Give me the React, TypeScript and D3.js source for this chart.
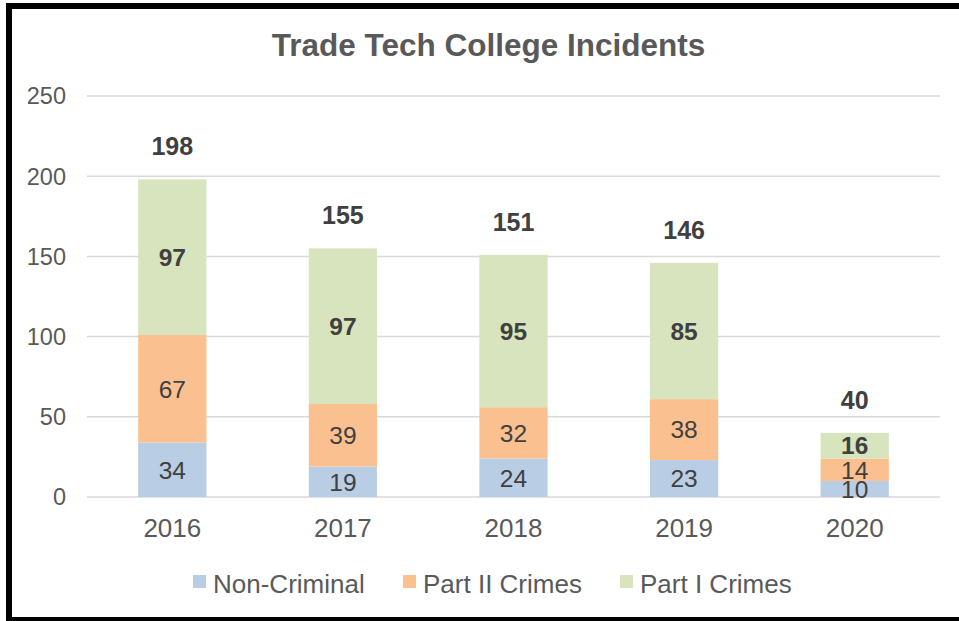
import React from "react";
import * as d3 from "d3";

const years = ["2016", "2017", "2018", "2019", "2020"];
const nonCriminal = [34, 19, 24, 23, 10];
const partII = [67, 39, 32, 38, 14];
const partI = [97, 97, 95, 85, 16];
const totals = [198, 155, 151, 146, 40];
const seriesNames = ["Non-Criminal", "Part II Crimes", "Part I Crimes"];
const seriesColors = ["#B9CDE5", "#FAC090", "#D7E4BD"];
const yTicks = [0, 50, 100, 150, 200, 250];

const W = 959;
const H = 621;
const FONT = "'Liberation Sans', Arial, Helvetica, sans-serif";

export default function App() {
  const x = d3.scaleBand<string>().domain(years).range([87, 940]).paddingInner(0.6).paddingOuter(0.3);
  const y = d3.scaleLinear().domain([0, 250]).range([497, 96]);

  const table = years.map((yr, i) => ({
    year: yr,
    s0: nonCriminal[i],
    s1: partII[i],
    s2: partI[i],
  }));
  const stack = d3.stack<any>().keys(["s0", "s1", "s2"]);
  const layers = stack(table);

  const legendX = [193, 403, 620];

  return (
    <svg
      width={W}
      height={H}
      style={{ position: "fixed", left: 0, top: 0, background: "#fff" }}
      fontFamily={FONT}
    >
      <rect x={0} y={0} width={W} height={H} fill="#fff" />
      {/* gridlines */}
      {yTicks.map((t) => (
        <line key={t} x1={87} x2={940} y1={y(t)} y2={y(t)} stroke="#D9D9D9" strokeWidth={1.5} />
      ))}
      {/* y tick labels */}
      {yTicks.map((t) => (
        <text key={"l" + t} x={66} y={y(t) + 8.4} textAnchor="end" fontSize={23.5} fill="#595959">
          {t}
        </text>
      ))}
      {/* bars */}
      {layers.map((layer, li) =>
        layer.map((d, i) => (
          <rect
            key={li + "-" + i}
            x={x(years[i])}
            width={x.bandwidth()}
            y={y(d[1])}
            height={y(d[0]) - y(d[1])}
            fill={seriesColors[li]}
          />
        ))
      )}
      {/* segment labels */}
      {layers.map((layer, li) =>
        layer.map((d, i) => (
          <text
            key={"t" + li + "-" + i}
            x={(x(years[i]) as number) + x.bandwidth() / 2}
            y={(y(d[0]) + y(d[1])) / 2 + 8.8}
            textAnchor="middle"
            fontSize={24.5}
            fontWeight={li === 2 ? "bold" : "normal"}
            fill="#404040"
          >
            {d[1] - d[0]}
          </text>
        ))
      )}
      {/* totals */}
      {totals.map((t, i) => (
        <text
          key={"tot" + i}
          x={(x(years[i]) as number) + x.bandwidth() / 2}
          y={y(t) - 24}
          textAnchor="middle"
          fontSize={25}
          fontWeight="bold"
          fill="#404040"
        >
          {t}
        </text>
      ))}
      {/* x labels */}
      {years.map((yr) => (
        <text
          key={"x" + yr}
          x={(x(yr) as number) + x.bandwidth() / 2}
          y={537}
          textAnchor="middle"
          fontSize={26}
          fill="#595959"
        >
          {yr}
        </text>
      ))}
      {/* title */}
      <text x={488.5} y={56} textAnchor="middle" fontSize={31.5} fontWeight="bold" fill="#595959">
        Trade Tech College Incidents
      </text>
      {/* legend */}
      {seriesNames.map((n, i) => (
        <g key={"lg" + i}>
          <rect x={legendX[i]} y={575} width={13} height={13} fill={seriesColors[i]} />
          <text x={legendX[i] + 20} y={593} fontSize={26} fill="#595959">
            {n}
          </text>
        </g>
      ))}
      {/* border */}
      <rect x={9} y={6} width={970} height={614} fill="none" stroke="#000" strokeWidth={6} />
    </svg>
  );
}
